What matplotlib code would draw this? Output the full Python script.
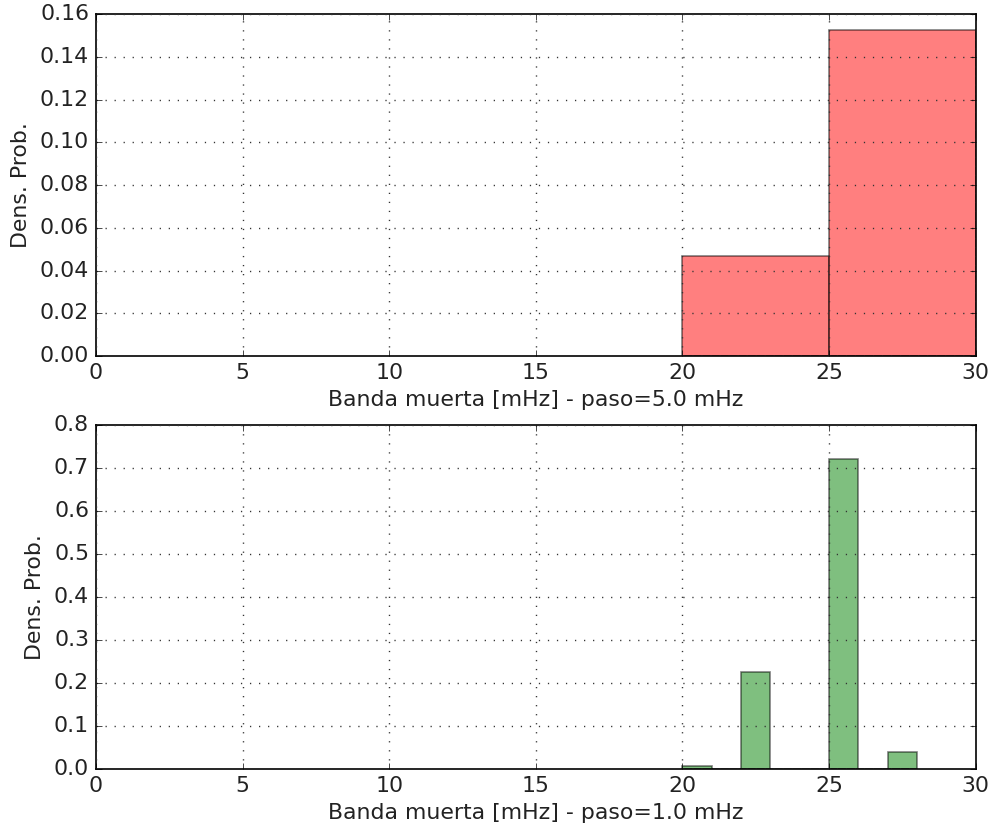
import matplotlib
matplotlib.use("Agg")
import matplotlib.pyplot as plt
import numpy as np

plt.style.use('classic')

# Data
edges_top = [20, 25, 30]
dens_top = [0.0466, 0.1526]
edges_bot = [20, 21, 22, 23, 24, 25, 26, 27, 28]
dens_bot = [0.007, 0.0, 0.226, 0.0, 0.0, 0.722, 0.0, 0.039]
xlabel_top = "Banda muerta [mHz] - paso=5.0 mHz"
xlabel_bot = "Banda muerta [mHz] - paso=1.0 mHz"
ylabel = "Dens. Prob."

FS = 15.8
TXT = '#222222'

fig = plt.figure(figsize=(9.94, 8.3), dpi=100, facecolor='white')
ax1 = fig.add_axes([0.0966, 0.571, 0.885, 0.412])
ax2 = fig.add_axes([0.0966, 0.0735, 0.885, 0.4145])

def draw(ax, edges, dens, color, ylim, yticks, fmt, xlabel):
    edges = np.asarray(edges, dtype=float)
    ax.bar(edges[:-1], dens, width=np.diff(edges), align='edge',
           color=color, alpha=0.5, edgecolor='black', linewidth=1.2)
    ax.set_xlim(0, 30)
    ax.set_ylim(*ylim)
    ax.set_xticks([0, 5, 10, 15, 20, 25, 30])
    ax.set_yticks(yticks)
    ax.set_yticklabels([fmt.format(v) for v in yticks])
    ax.grid(True, color='#333333', linestyle=(0, (0.9, 5.6)), linewidth=1.0)
    ax.set_axisbelow(False)
    ax.set_xlabel(xlabel, fontsize=FS, color=TXT, labelpad=5)
    ax.set_ylabel(ylabel, fontsize=FS, color=TXT, labelpad=6)
    ax.tick_params(labelsize=FS, labelcolor=TXT, pad=5)
    for s in ax.spines.values():
        s.set_linewidth(1.2)

draw(ax1, edges_top, dens_top, 'red', (0, 0.16),
     [0.0, 0.02, 0.04, 0.06, 0.08, 0.10, 0.12, 0.14, 0.16], "{:.2f}", xlabel_top)
draw(ax2, edges_bot, dens_bot, 'green', (0, 0.8),
     [0.0, 0.1, 0.2, 0.3, 0.4, 0.5, 0.6, 0.7, 0.8], "{:.1f}", xlabel_bot)

fig.savefig("out.png", dpi=100, facecolor='white')
